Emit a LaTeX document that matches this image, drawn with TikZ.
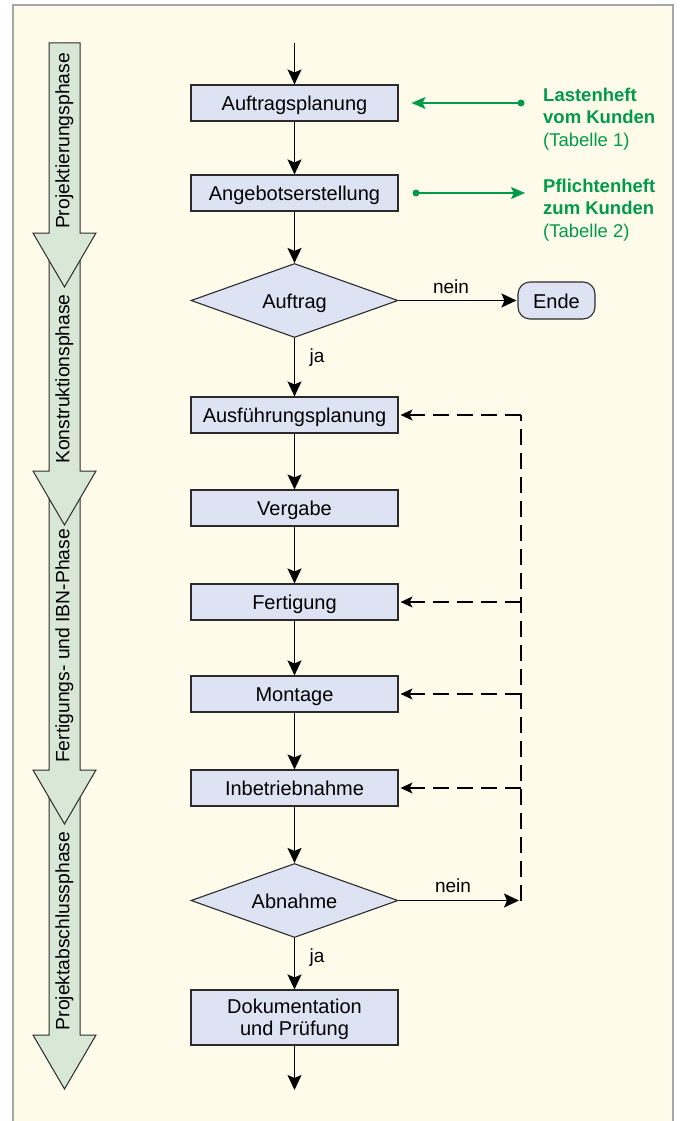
\documentclass[tikz,border=0pt]{standalone}
\usepackage{fontspec}
\setmainfont{Liberation Sans}
\usetikzlibrary{shapes.geometric,arrows.meta}
\definecolor{bgcream}{HTML}{FFFBEB}
\definecolor{boxfill}{HTML}{DEE3F3}
\definecolor{phasefill}{HTML}{D9E7D6}
\definecolor{gr}{HTML}{009B4A}
\definecolor{framegray}{HTML}{A6A6A6}
\definecolor{edge}{HTML}{2B2B2B}
\tikzset{
  basebox/.style={draw=edge, fill=boxfill, line width=1.1pt, minimum width=207pt,
    minimum height=36pt, inner sep=0pt, font=\fontsize{20}{22}\selectfont},
  stepbox/.style={basebox, text height=15pt, text depth=0pt},
  decision/.style={diamond, shape aspect=2.8, draw=edge, fill=boxfill, line width=1.1pt,
    minimum width=207pt, minimum height=74pt, inner sep=0pt, font=\fontsize{20}{22}\selectfont,
    text height=15pt, text depth=0pt},
  endbox/.style={draw=edge, fill=boxfill, line width=1.1pt, rounded corners=12pt,
    minimum width=77pt, minimum height=37pt, inner sep=0pt, font=\fontsize{20}{22}\selectfont,
    text height=15pt, text depth=0pt},
  flow/.style={draw=black, line width=1.5pt, -{Stealth[length=15pt,width=14pt,inset=3pt]}},
  dashflow/.style={draw=black, line width=1.5pt, dash pattern=on 16pt off 8pt,
    -{Stealth[length=12pt,width=11pt,inset=3pt]}},
  dashline/.style={draw=black, line width=1.5pt, dash pattern=on 16pt off 8pt},
  garrow/.style={draw=gr, line width=1.5pt, -{Stealth[length=14pt,width=12pt,inset=3pt]}},
  gtext/.style={text=gr, anchor=north west, inner sep=0pt, align=left,
    font=\fontsize{18.5}{22.5}\selectfont},
  lbl/.style={inner sep=0pt, font=\fontsize{19}{22}\selectfont},
  phase/.style={draw=edge, fill=phasefill, line width=1pt},
  phaselabel/.style={rotate=90, inner sep=0pt, font=\fontsize{19.3}{22}\selectfont}
}
\begin{document}
\begin{tikzpicture}[x=1pt,y=-1pt]
\useasboundingbox (0,0) rectangle (680,1121);
% frame
\fill[white] (0,0) rectangle (680,1121);
\fill[bgcream] (13,5) rectangle (673,1121);
\draw[framegray, line width=1.5pt] (13,1121) -- (13,5) -- (673,5) -- (673,1121);

% phase arrows (drawn bottom first so upper heads overlap)
\foreach \T/\H in {790/1035, 491/770, 253/471, 43/233}{
  \draw[phase] (49,\T) -- (80,\T) -- (80,\H) -- (96,\H) -- (64.5,\H+54) -- (33,\H) -- (49,\H) -- cycle;
}
\node[phaselabel] (p1) at (64.5,141) {Projektierungsphase};
\node[phaselabel] (p2) at (64.5,379) {Konstruktionsphase};
\node[phaselabel] (p3) at (64.5,646) {Fertigungs- und IBN-Phase};
\node[phaselabel] (p4) at (64.5,931) {Projektabschlussphase};

% flowchart nodes
\coordinate (start) at (294.5,43);
\node[stepbox] (ap) at (294.5,103) {Auftragsplanung};
\node[stepbox] (ag) at (294.5,193) {Angebotserstellung};
\node[decision] (auf) at (294.5,300.5) {Auftrag};
\node[endbox] (ende) at (556.5,300.5) {Ende};
\node[stepbox] (ausf) at (294.5,415) {Ausführungsplanung};
\node[stepbox] (verg) at (294.5,508) {Vergabe};
\node[stepbox] (fert) at (294.5,602) {Fertigung};
\node[stepbox] (mont) at (294.5,694) {Montage};
\node[stepbox] (ibn) at (294.5,788) {Inbetriebnahme};
\node[decision] (abn) at (294.5,900.5) {Abnahme};
\node[basebox, minimum height=55pt, align=center, text depth=0pt] (doku) at (294.5,1017.5) {Dokumentation\\und Prüfung};
\coordinate (exit) at (294.5,1090);

% main flow
\draw[flow] (start) -- (ap);
\draw[flow] (ap) -- (ag);
\draw[flow] (ag) -- (auf);
\draw[flow] (auf) -- (ausf);
\draw[flow] (ausf) -- (verg);
\draw[flow] (verg) -- (fert);
\draw[flow] (fert) -- (mont);
\draw[flow] (mont) -- (ibn);
\draw[flow] (ibn) -- (abn);
\draw[flow] (abn) -- (doku);
\draw[flow] (doku) -- (exit);
\node[lbl] (ja1) at (317,358) {ja};
\node[lbl] (ja2) at (317,958) {ja};

% nein branches
\draw[flow, shorten >=1pt] (auf.east) -- (ende.west);
\node[lbl] (nein1) at (451,287) {nein};
\coordinate (cb) at (521,900.5);
\coordinate (ct) at (521,415);
\draw[flow, shorten >=2pt] (abn.east) -- (cb);
\node[lbl] (nein2) at (453,886) {nein};

% dashed feedback
\draw[dashline] (cb) -- (ct);
\draw[dashflow, shorten >=2pt] (ct) -- (ausf.east);
\draw[dashflow, shorten >=2pt] (cb |- fert.east) -- (fert.east);
\draw[dashflow, shorten >=2pt] (cb |- mont.east) -- (mont.east);
\draw[dashflow, shorten >=2pt] (cb |- ibn.east) -- (ibn.east);

% green annotations
\coordinate (lhdot) at (521,103);
\fill[gr] (lhdot) circle (3.5);
\draw[garrow, shorten >=13pt] (lhdot) -- (ap.east);
\node[gtext] (lh) at (543,87.5) {\textbf{Lastenheft}\\\textbf{vom Kunden}\\(Tabelle 1)};
\coordinate (phdot) at (416,193);
\coordinate (phtip) at (525,193);
\fill[gr] (phdot) circle (3.5);
\draw[garrow] (phdot) -- (phtip);
\node[gtext] (ph) at (543,178.5) {\textbf{Pflichtenheft}\\\textbf{zum Kunden}\\(Tabelle 2)};
\end{tikzpicture}
\end{document}
